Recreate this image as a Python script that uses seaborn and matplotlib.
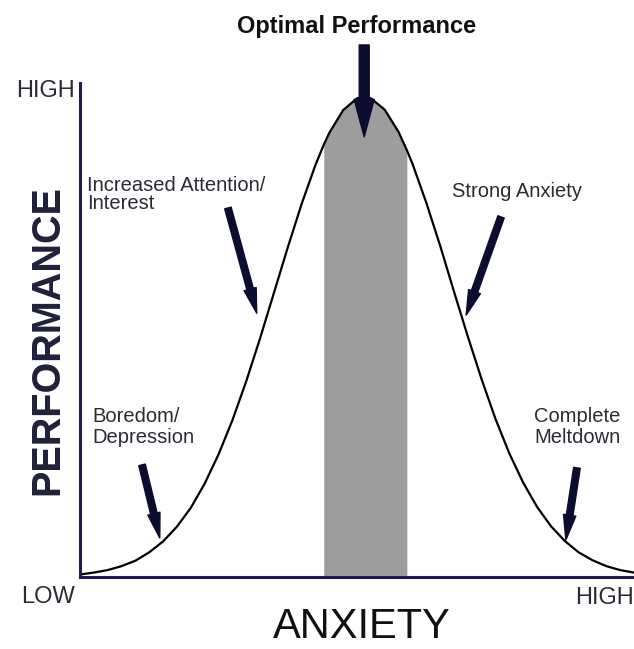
import matplotlib
matplotlib.use("Agg")
import matplotlib.pyplot as plt
import seaborn as sns
import pandas as pd

# Data (anxiety 0-100, performance 0-100)
anxiety = [0, 2.5, 5, 7.5, 10, 12.5, 15, 17.5, 20, 22.5, 25, 27.5, 30, 32.5, 35,
           37.5, 40, 42.5, 44, 45, 47.5, 50, 51.3, 52.5, 55, 57.5, 59, 60, 62.5,
           65, 67.5, 70, 72.5, 75, 77.5, 80, 82.5, 85, 87.5, 90, 92.5, 95, 97.5, 100]
performance = [0.5, 0.9, 1.4, 2.2, 3.3, 5.0, 7.2, 10.2, 14.0, 18.9, 24.8, 31.7,
               39.6, 48.3, 57.5, 66.7, 75.5, 83.4, 87.5, 89.9, 94.5, 96.9, 97.2,
               96.9, 94.6, 90.1, 86.4, 83.7, 75.8, 67.1, 57.8, 48.7, 40.0, 32.0,
               25.0, 19.1, 14.2, 10.3, 7.3, 5.0, 3.4, 2.2, 1.4, 0.9]
optimal_zone = (44, 59)

df = pd.DataFrame({"Anxiety": anxiety, "Performance": performance})

sns.set_theme(style="white")
plt.rcParams["font.family"] = ["Liberation Sans", "DejaVu Sans"]

AXIS_COL = "#1e1e4a"
ARROW_COL = "#0c0c2e"
TEXT_COL = "#2b2b35"

fig = plt.figure(figsize=(6.34, 6.49), dpi=100)
ax = fig.add_axes([80 / 634, 72 / 649, 554 / 634, 494 / 649])

# shaded optimal band under the curve
band = df[(df.Anxiety >= optimal_zone[0]) & (df.Anxiety <= optimal_zone[1])]
ax.fill_between(band.Anxiety, 0, band.Performance, color="#9d9d9d", lw=0, zorder=1)

sns.lineplot(data=df, x="Anxiety", y="Performance", color="black", lw=1.6, ax=ax, zorder=3)

ax.set_xlim(0, 100)
ax.set_ylim(0, 100)
ax.set_xticks([])
ax.set_yticks([])
ax.set_xlabel("")
ax.set_ylabel("")
for side in ["top", "right"]:
    ax.spines[side].set_visible(False)
for side in ["left", "bottom"]:
    ax.spines[side].set_color(AXIS_COL)
    ax.spines[side].set_linewidth(2.2)
    ax.spines[side].set_zorder(4)

# axis words
ax.text(-0.9, 98.4, "HIGH", ha="right", va="center", fontsize=17, color=TEXT_COL, clip_on=False)
ax.text(-0.9, -4.0, "LOW", ha="right", va="center", fontsize=17, color=TEXT_COL, clip_on=False)
ax.text(100, -4.3, "HIGH", ha="right", va="center", fontsize=17, color=TEXT_COL, clip_on=False)
ax.text(50.8, -12.4, "ANXIETY", ha="center", va="baseline", fontsize=30, color="#111111",
        clip_on=False)
ax.text(-5.9, 48.0, "PERFORMANCE", ha="center", va="center", rotation=90, fontsize=28.5,
        fontweight="bold", color="#20203a", clip_on=False)
ax.text(50, 110.1, "Optimal Performance", ha="center", va="baseline", fontsize=17,
        fontweight="bold", color="#111111", clip_on=False)

# callouts
ax.text(1.3, 81.2, "Increased Attention/\nInterest", ha="left", va="top", fontsize=14.5,
        color=TEXT_COL, linespacing=0.95)
ax.text(67.2, 80.0, "Strong Anxiety", ha="left", va="top", fontsize=14.5, color=TEXT_COL)
ax.text(2.2, 34.4, "Boredom/\nDepression", ha="left", va="top", fontsize=14.5,
        color=TEXT_COL, linespacing=1.1)
ax.text(89.8, 34.4, "Complete\nMeltdown", ha="center", va="top", fontsize=14.5,
        color=TEXT_COL, linespacing=1.1)

thin = dict(arrowstyle="simple,head_length=1.8,head_width=0.9,tail_width=0.48",
            color=ARROW_COL, mutation_scale=10, shrinkA=0, shrinkB=0)
thick = dict(arrowstyle="simple,head_length=2.7,head_width=1.45,tail_width=0.72",
             color=ARROW_COL, mutation_scale=10, shrinkA=0, shrinkB=0)

ax.annotate("", xy=(51.3, 89.1), xytext=(51.3, 107.7), arrowprops=thick,
            annotation_clip=False, zorder=5)
ax.annotate("", xy=(31.9, 53.4), xytext=(26.7, 74.7), arrowprops=thin, zorder=5)
ax.annotate("", xy=(69.7, 53.0), xytext=(76.0, 72.9), arrowprops=thin, zorder=5)
ax.annotate("", xy=(14.4, 7.9), xytext=(11.2, 22.7), arrowprops=thin, zorder=5)
ax.annotate("", xy=(87.7, 7.5), xytext=(89.7, 22.1), arrowprops=thin, zorder=5)

fig.savefig("out.png", dpi=100)
